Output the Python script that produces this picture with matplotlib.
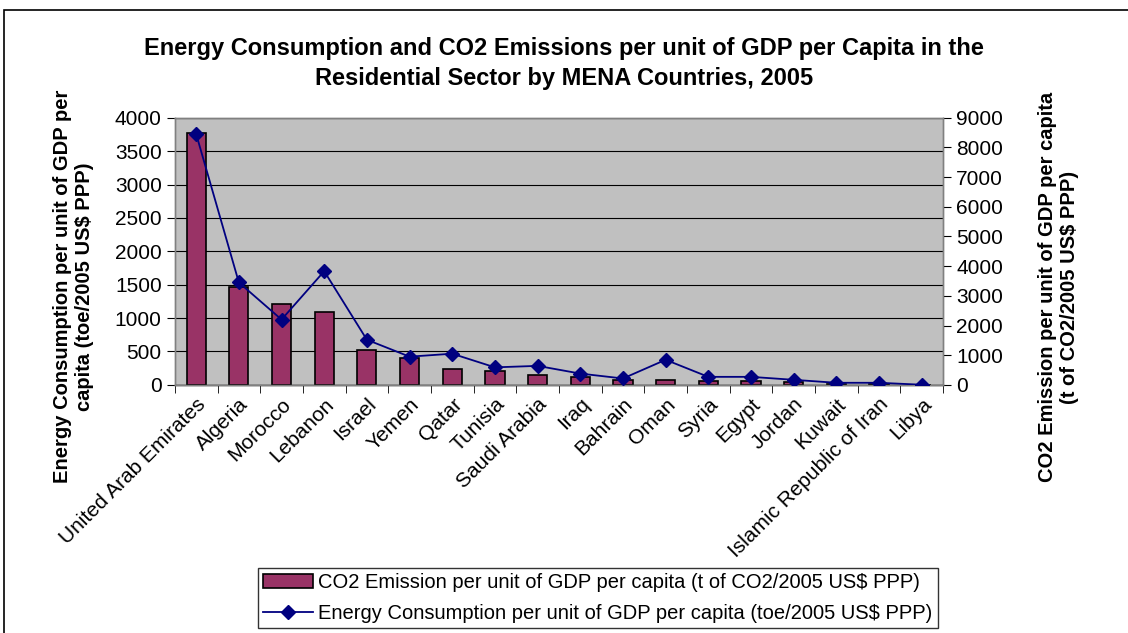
import matplotlib.pyplot as plt
import numpy as np
from matplotlib.patches import Rectangle

plt.rcParams['font.family'] = ['Liberation Sans', 'DejaVu Sans']

# 数据
countries = ['United Arab Emirates', 'Algeria', 'Morocco', 'Lebanon', 'Israel',
             'Yemen', 'Qatar', 'Tunisia', 'Saudi Arabia', 'Iraq', 'Bahrain',
             'Oman', 'Syria', 'Egypt', 'Jordan', 'Kuwait',
             'Islamic Republic of Iran', 'Libya']
co2_values = [3770, 1465, 1215, 1095, 515, 400, 235, 215, 145, 125, 75,
              75, 55, 55, 50, 8, 6, 4]
energy_values = [8450, 3450, 2200, 3830, 1520, 950, 1050, 590, 640, 380, 215,
                 845, 270, 270, 170, 70, 70, 5]

co2_label = 'CO2 Emission per unit of GDP per capita (t of CO2/2005 US$ PPP)'
energy_label = 'Energy Consumption per unit of GDP per capita (toe/2005 US$ PPP)'
title = ('Energy Consumption and CO2 Emissions per unit of GDP per Capita in the\n'
         'Residential Sector by MENA Countries, 2005')

fig = plt.figure(figsize=(11.28, 6.33), dpi=100)
ax = fig.add_axes([0.155, 0.392, 0.681, 0.422])
ax2 = ax.twinx()

x = np.arange(len(countries))

# 柱状图
bars = ax.bar(x, co2_values, width=0.45, color='#993366', edgecolor='black',
              linewidth=1.2, zorder=3, label=co2_label)
ax.set_facecolor('#C0C0C0')
ax.set_ylim(0, 4000)
ax.set_yticks(np.arange(0, 4001, 500))
ax.yaxis.grid(True, color='black', linewidth=0.8, zorder=0)
ax.set_axisbelow(True)
ax.set_xlim(-0.5, len(countries) - 0.5)
ax.set_xticks(x)
ax.set_xticklabels(countries, rotation=45, ha='right', rotation_mode='anchor',
                   fontsize=15)
ax.tick_params(axis='x', length=0, pad=7)
ax.set_xticks(np.arange(-0.5, len(countries), 1), minor=True)
ax.tick_params(axis='x', which='minor', length=6, direction='out')
ax.tick_params(axis='y', labelsize=15, length=6, direction='out')

# 折线图
line, = ax2.plot(x, energy_values, color='#000080', marker='D', markersize=7,
                 linewidth=1.3, zorder=4, label=energy_label)
ax2.set_ylim(0, 9000)
ax2.set_yticks(np.arange(0, 9001, 1000))
ax2.tick_params(axis='y', labelsize=15, length=6, direction='out')

for a in (ax, ax2):
    for s in a.spines.values():
        s.set_color('#808080')
        s.set_linewidth(1.0)
ax.spines['bottom'].set_color('black')

ax.set_zorder(ax2.get_zorder() - 1)
ax2.patch.set_visible(False)

# 标题和坐标轴标签
fig.text(0.5, 0.9, title, ha='center', va='center', fontsize=17,
         fontweight='bold', linespacing=1.4)
fig.text(0.065, 0.547, 'Energy Consumption per unit of GDP per\ncapita (toe/2005 US$ PPP)',
         rotation=90, ha='center', va='center', fontsize=14.5, fontweight='bold',
         linespacing=1.2)
fig.text(0.938, 0.546, 'CO2 Emission per unit of GDP per capita\n(t of CO2/2005 US$ PPP)',
         rotation=90, ha='center', va='center', fontsize=14.5, fontweight='bold',
         linespacing=1.2)

# 图例
leg = fig.legend([bars, line], [co2_label, energy_label], loc='upper left',
                 bbox_to_anchor=(0.2287, 0.1027), fontsize=14.5, frameon=True,
                 fancybox=False, edgecolor='black', borderpad=0.25,
                 handlelength=2.5, handletextpad=0.25, labelspacing=0.6,
                 borderaxespad=0)
leg.get_frame().set_linewidth(1.0)

# 外框
fig.patches.append(Rectangle((0.0035, -0.1), 1.2, 1.084, transform=fig.transFigure,
                             fill=False, edgecolor='black', linewidth=1.2))

fig.savefig('out.png', dpi=100)
